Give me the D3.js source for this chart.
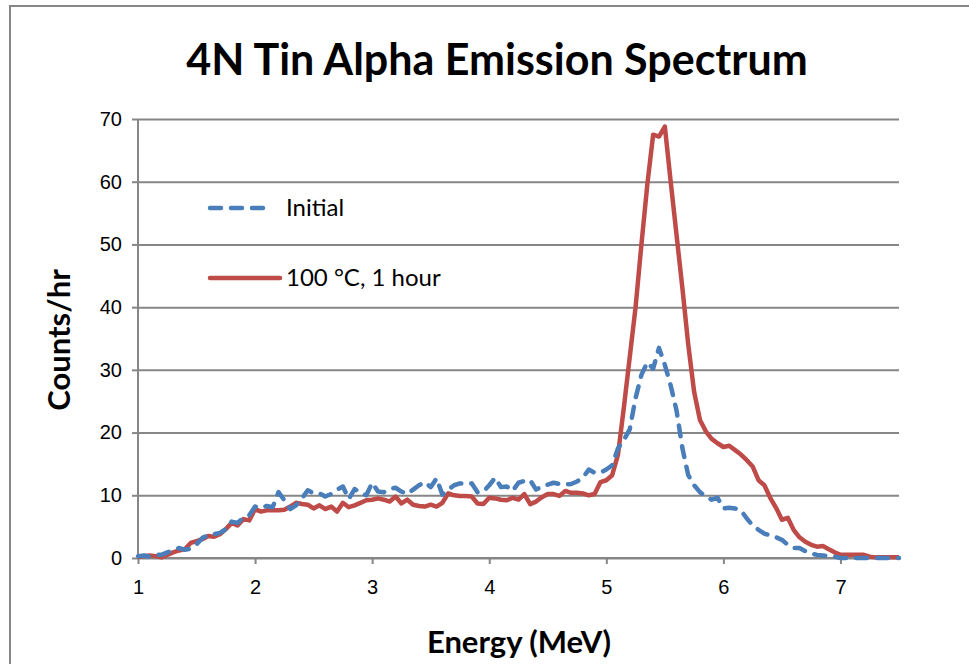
<!DOCTYPE html>
<html>
<head>
<meta charset="utf-8">
<script src="https://cdn.jsdelivr.net/npm/d3@7"></script>
<style>
  body { margin: 0; background: #fff; }
  svg { display: block; font-family: Lato, "Open Sans", sans-serif; }
</style>
</head>
<body>
<div id="chart"></div>
<script>
var svgWidth = 969;
var svgHeight = 664;

var margin = { top: 119, right: 70, bottom: 106, left: 138 };
var chartWidth = svgWidth - margin.left - margin.right;
var chartHeight = svgHeight - margin.top - margin.bottom;

// energy grid (MeV), 0.05 step
var energy = d3.range(131).map(i => +(1 + i * 0.05).toFixed(2));

// Initial (dashed blue)
var initial = [
  0.3, 0.4, 0.2, 0.5, 0.5, 0.9, 1.2, 1.6, 1.3, 1.5,
  2.2, 3.2, 3.6, 3.8, 4.0, 4.6, 5.8, 5.6, 6.4, 6.8,
  8.2, 8.0, 8.3, 8.1, 10.5, 9.2, 7.8, 8.4, 9.5, 10.8,
  10.3, 10.3, 9.8, 10.2, 10.9, 11.4, 9.4, 11.0, 10.4, 10.0,
  12.0, 10.6, 10.5, 11.0, 11.2, 10.6, 10.2, 10.9, 11.6, 12.1,
  11.3, 12.7, 10.1, 10.9, 11.6, 11.9, 11.8, 11.9, 10.5, 10.6,
  11.6, 12.8, 11.3, 11.4, 10.7, 12.0, 12.3, 12.4, 10.9, 11.4,
  11.7, 12.0, 11.8, 11.7, 11.8, 12.2, 12.8, 14.1, 13.6, 13.6,
  14.1, 14.8, 17.5, 18.8, 20.5, 25.5, 29.2, 31.2, 30.2, 33.5,
  30.8, 27.5, 23.5, 17.5, 13.2, 11.6, 10.5, 9.8, 9.3, 9.6,
  7.9, 8.0, 7.9, 7.6, 6.3, 5.2, 4.5, 3.9, 3.6, 3.3,
  2.9, 2.1, 1.6, 1.6, 1.1, 0.7, 0.5, 0.4, 0.3, 0.2,
  0, 0, 0, 0, 0, 0, 0, 0, 0, 0, 0
];

// 100 °C, 1 hour (solid red)
var heated = [
  0.2, 0.3, 0.4, 0.3, 0.1, 0.5, 0.9, 1.2, 1.4, 2.4,
  2.7, 3.0, 3.5, 3.4, 3.8, 4.6, 5.6, 5.2, 6.2, 6.0,
  7.8, 7.4, 7.6, 7.6, 7.6, 7.7, 8.2, 8.8, 8.6, 8.5,
  7.9, 8.4, 7.8, 8.2, 7.4, 8.8, 8.1, 8.4, 8.8, 9.2,
  9.3, 9.5, 9.3, 9.0, 9.8, 8.7, 9.3, 8.5, 8.3, 8.2,
  8.5, 8.2, 8.8, 10.3, 10.0, 9.9, 9.9, 9.8, 8.7, 8.6,
  9.6, 9.5, 9.3, 9.2, 9.6, 9.3, 10.2, 8.6, 9.0, 9.7,
  10.2, 10.2, 9.9, 10.7, 10.4, 10.4, 10.3, 10.0, 10.2, 12.1,
  12.4, 13.2, 16.5, 24.0, 32.0, 40.0, 50.0, 59.5, 67.5, 67.2,
  68.8, 60.0, 51.5, 43.0, 34.0, 26.5, 22.0, 20.2, 19.0, 18.3,
  17.7, 17.9, 17.2, 16.5, 15.6, 14.6, 12.4, 11.6, 9.6, 8.0,
  6.1, 6.4, 4.5, 3.3, 2.6, 2.1, 1.8, 1.9, 1.4, 0.9,
  0.5, 0.5, 0.5, 0.5, 0.5, 0.2, 0.1, 0.1, 0.1, 0.1, 0.1
];

var xTicks = [1, 2, 3, 4, 5, 6, 7];
var yTicks = [0, 10, 20, 30, 40, 50, 60, 70];
var seriesNames = ["Initial", "100 °C, 1 hour"];

var svg = d3.select("#chart")
  .append("svg")
  .attr("width", svgWidth)
  .attr("height", svgHeight);

// chart area border (Excel style)
svg.append("rect")
  .attr("x", 10).attr("y", 6)
  .attr("width", 980).attr("height", 700)
  .attr("fill", "none")
  .attr("stroke", "#868686")
  .attr("stroke-width", 2);

var chartGroup = svg.append("g")
  .attr("transform", `translate(${margin.left}, ${margin.top})`);

var xScale = d3.scaleLinear().domain([1, 7.5]).range([0, chartWidth]);
var yScale = d3.scaleLinear().domain([0, 70]).range([chartHeight, 0]);

// gridlines
chartGroup.append("g")
  .call(d3.axisLeft(yScale).tickValues(yTicks).tickSize(-chartWidth).tickFormat(""))
  .call(g => g.select(".domain").remove())
  .selectAll("line")
  .attr("stroke", "#868686")
  .attr("stroke-width", 2);

// y axis
var yAxis = chartGroup.append("g")
  .call(d3.axisLeft(yScale).tickValues(yTicks).tickSize(6).tickPadding(10));
yAxis.select(".domain").attr("stroke", "#868686").attr("stroke-width", 2).attr("d", `M0,0V${chartHeight}`);
yAxis.selectAll("line").attr("stroke", "#868686").attr("stroke-width", 2);
yAxis.selectAll("text").attr("font-size", 20).attr("fill", "#000");

// x axis
var xAxis = chartGroup.append("g")
  .attr("transform", `translate(0, ${chartHeight})`)
  .call(d3.axisBottom(xScale).tickValues(xTicks).tickFormat(d3.format("d")).tickSize(6).tickPadding(16));
xAxis.select(".domain").attr("stroke", "#868686").attr("stroke-width", 2).attr("d", `M0,0H${chartWidth}`);
xAxis.selectAll("line").attr("stroke", "#868686").attr("stroke-width", 2);
xAxis.selectAll("text").attr("font-size", 20).attr("fill", "#000");

var line = d3.line()
  .x((d, i) => xScale(energy[i]))
  .y(d => yScale(d));

chartGroup.append("path")
  .datum(heated)
  .attr("d", line)
  .attr("fill", "none")
  .attr("stroke", "#be4b48")
  .attr("stroke-width", 4.5)
  .attr("stroke-linejoin", "round");

chartGroup.append("path")
  .datum(initial)
  .attr("d", line)
  .attr("fill", "none")
  .attr("stroke", "#4a7ebb")
  .attr("stroke-width", 4.5)
  .attr("stroke-dasharray", "11,10")
  .attr("stroke-linecap", "round")
  .attr("stroke-linejoin", "round");

// legend
var legend = svg.append("g");
var legendItems = [
  { name: seriesNames[0], color: "#4a7ebb", dash: "11,10", y: 208, x2: 270 },
  { name: seriesNames[1], color: "#be4b48", dash: null, y: 278, x2: 280 }
];
legendItems.forEach(function(d) {
  legend.append("line")
    .attr("x1", 210).attr("x2", d.x2)
    .attr("y1", d.y).attr("y2", d.y)
    .attr("stroke", d.color)
    .attr("stroke-width", 4.5)
    .attr("stroke-linecap", "round")
    .attr("stroke-dasharray", d.dash);
  legend.append("text")
    .attr("x", 286).attr("y", d.y)
    .attr("dy", "0.35em")
    .attr("font-size", 24)
    .text(d.name);
});

// title
svg.append("text")
  .attr("x", 497).attr("y", 75)
  .attr("text-anchor", "middle")
  .attr("font-size", 43)
  .attr("font-weight", "bold")
  .text("4N Tin Alpha Emission Spectrum");

// axis titles
svg.append("text")
  .attr("x", 519).attr("y", 653)
  .attr("text-anchor", "middle")
  .attr("font-size", 31)
  .attr("font-weight", "bold")
  .text("Energy (MeV)");

svg.append("text")
  .attr("transform", "translate(70, 340) rotate(-90)")
  .attr("text-anchor", "middle")
  .attr("font-size", 31)
  .attr("font-weight", "bold")
  .text("Counts/hr");
</script>
</body>
</html>
